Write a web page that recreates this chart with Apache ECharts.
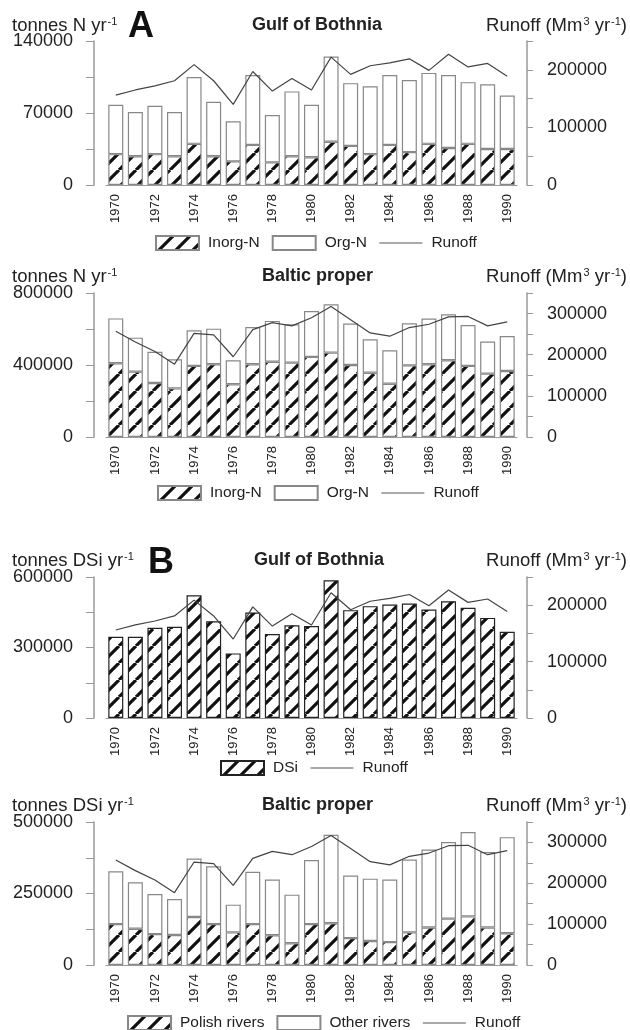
<!DOCTYPE html>
<html>
<head>
<meta charset="utf-8">
<script src="https://cdn.jsdelivr.net/npm/echarts@6/dist/echarts.min.js"></script>
<style>
  html, body { margin: 0; padding: 0; background: #fff; }
  #chart { width: 630px; height: 1030px; }
</style>
</head>
<body>
<div id="chart"></div>
<script>
const years = ['1970','1971','1972','1973','1974','1975','1976','1977','1978','1979','1980',
               '1981','1982','1983','1984','1985','1986','1987','1988','1989','1990'];

// A - nitrogen, Gulf of Bothnia (tonnes N / yr)
const gobInorgN = [30000,28000,30000,28000,40000,28000,23000,39000,22000,28000,27000,
                   42000,38000,30000,39000,32000,40000,36000,40000,35000,35000];
const gobOrgN   = [48000,43000,47000,43000,65000,53000,39000,68000,46000,63000,51000,
                   83000,61000,66000,68000,70000,69000,71000,60000,63000,52000];

// A - nitrogen, Baltic proper
const bpInorgN = [410000,363000,300000,270000,395000,404000,293000,404000,418000,413000,445000,
                  469000,400000,357000,296000,398000,404000,426000,395000,352000,367000];
const bpOrgN   = [249000,189000,174000,162000,198000,198000,133000,207000,227000,213000,255000,
                  268000,230000,186000,186000,234000,254000,256000,227000,178000,194000];

// B - dissolved silicate
const gobDSi = [346000,346000,384000,388000,522000,412000,275000,449000,357000,395000,391000,
                586000,459000,476000,483000,487000,462000,497000,469000,426000,367000];
const bpPolish = [143000,127000,108000,105000,168000,143000,114000,143000,104000,76000,143000,
                  146000,94000,84000,80000,114000,131000,162000,170000,131000,111000];
const bpOther  = [185000,162000,140000,126000,204000,202000,97000,183000,195000,170000,224000,
                  309000,219000,218000,219000,255000,273000,268000,295000,264000,336000];

// runoff (Mm3 / yr)
const gobRunoff = [156000,165000,172000,181000,209000,181000,140000,197000,163000,185000,165000,
                   222000,192000,207000,212000,219000,199000,227000,205000,211000,189000];
const bpRunoff  = [257000,231000,208000,177000,252000,248000,195000,261000,278000,270000,290000,
                   317000,285000,253000,245000,266000,274000,292000,293000,270000,280000];

const leftTicks  = [[140000, 35000], [800000, 200000], [600000, 150000], [500000, 125000]];
const rightTicks = [[250000, 50000], [350000, 50000], [250000, 50000], [350000, 50000]];

function hatch() {
    const s = 17;
    const c = document.createElement('canvas');
    c.width = s; c.height = s;
    const ctx = c.getContext('2d');
    ctx.fillStyle = '#fff';
    ctx.fillRect(0, 0, s, s);
    ctx.strokeStyle = '#111';
    ctx.lineWidth = 3.2;
    ctx.beginPath();
    for (const o of [-s, 0, s]) {
        ctx.moveTo(o, s);
        ctx.lineTo(o + s, 0);
    }
    ctx.stroke();
    return c;
}
const hatchFill = { image: hatch(), repeat: 'repeat' };

const FONT = 'Liberation Sans, Arial, sans-serif';
const grids = [
    { top: 41, height: 144 },
    { top: 293, height: 144 },
    { top: 577, height: 141 },
    { top: 822, height: 143 }
];

const xAxis = [], yAxis = [];
grids.forEach((g, i) => {
    g.left = 106; g.right = 113;
    xAxis.push({
        type: 'category', gridIndex: i, data: years,
        axisLine: { lineStyle: { color: '#999', width: 1.2 } },
        axisTick: { show: false },
        axisLabel: { rotate: 90, interval: 1, fontSize: 13, margin: 9, color: '#222', fontFamily: FONT }
    });
    const [lmax, lint] = leftTicks[i];
    yAxis.push({
        type: 'value', gridIndex: i, min: 0, max: lmax, interval: lint, offset: 12,
        axisLine: { show: true, lineStyle: { color: '#999', width: 1.5 } },
        axisTick: { show: true, length: 8, lineStyle: { color: '#999' } },
        splitLine: { show: false },
        axisLabel: {
            fontSize: 18, margin: 21, color: '#222', fontFamily: FONT,
            formatter: v => (v % (lint * 2) === 0 ? String(v) : '')
        }
    });
    const [rmax, rint] = rightTicks[i];
    yAxis.push({
        type: 'value', gridIndex: i, position: 'right', min: 0, max: rmax, interval: rint, offset: 10,
        axisLine: { show: true, lineStyle: { color: '#999', width: 1.5 } },
        axisTick: { show: true, length: 6, lineStyle: { color: '#999' } },
        splitLine: { show: false },
        axisLabel: {
            fontSize: 18, margin: 20, color: '#222', fontFamily: FONT,
            formatter: v => (v % 100000 === 0 ? String(v) : '')
        }
    });
});

function bar(name, data, i, fill, border) {
    return {
        name, type: 'bar', data, stack: 'p' + i, xAxisIndex: i, yAxisIndex: i * 2,
        barWidth: 15,
        itemStyle: { color: fill, borderColor: border || '#888', borderWidth: 1.2 }
    };
}
function runoff(data, i) {
    return {
        name: 'Runoff', type: 'line', data, xAxisIndex: i, yAxisIndex: i * 2 + 1,
        symbol: 'none', z: 5,
        lineStyle: { color: '#444', width: 1.2 },
        itemStyle: { color: '#444' }
    };
}

const series = [
    bar('Inorg-N', gobInorgN, 0, hatchFill),
    bar('Org-N', gobOrgN, 0, '#fff'),
    runoff(gobRunoff, 0),
    bar('Inorg-N', bpInorgN, 1, hatchFill),
    bar('Org-N', bpOrgN, 1, '#fff'),
    runoff(bpRunoff, 1),
    bar('DSi', gobDSi, 2, hatchFill, '#222'),
    runoff(gobRunoff, 2),
    bar('Polish rivers', bpPolish, 3, hatchFill),
    bar('Other rivers', bpOther, 3, '#fff'),
    runoff(bpRunoff, 3)
];

const rich = {
    n: { fontSize: 18.5, fontWeight: 'normal', fontFamily: FONT, color: '#222' },
    s: { fontSize: 11, fontWeight: 'normal', fontFamily: FONT, color: '#222', verticalAlign: 'top', padding: [0, 0, 8, 1] }
};
function head(text, left, top, extra) {
    return Object.assign({ text, left, top, padding: 0,
        textStyle: { rich, fontWeight: 'normal', fontFamily: FONT } }, extra || {});
}
const titleStyle = { fontSize: 18, fontWeight: 'bold', fontFamily: FONT, color: '#222' };
const letterStyle = { fontSize: 36, fontWeight: 'bold', fontFamily: FONT, color: '#111' };

const headerY = [16, 267, 551, 796];
const title = [];
const units = ['tonnes N yr', 'tonnes N yr', 'tonnes DSi yr', 'tonnes DSi yr'];
const names = ['Gulf of Bothnia', 'Baltic proper', 'Gulf of Bothnia', 'Baltic proper'];
const nameX = [252, 262, 254, 262];
headerY.forEach((y, i) => {
    title.push(head('{n|' + units[i] + '}{s|-1}', 12, y));
    title.push(head('{n|Runoff (Mm}{s|3}{n| yr}{s|-1}{n|)}', null, y, { right: 3 }));
    title.push({ text: names[i], left: nameX[i], top: y, padding: 0, textStyle: titleStyle });
});
title.push({ text: 'A', left: 128, top: 9, padding: 0, textStyle: letterStyle });
title.push({ text: 'B', left: 148, top: 545, padding: 0, textStyle: letterStyle });

function legend(names, left, top) {
    const data = names.map(n => n === 'Runoff'
        ? { name: n, itemStyle: { opacity: 0 }, lineStyle: { color: '#555', width: 1 } }
        : { name: n, icon: 'rect' });
    return {
        data, left, top, itemWidth: 43, itemHeight: 14, itemGap: 12, padding: 0,
        textStyle: { fontSize: 15.5, fontFamily: FONT, color: '#222', padding: [0, 0, 0, 4] }
    };
}

const chart = echarts.init(document.getElementById('chart'), null, { renderer: 'canvas' });
chart.setOption({
    animation: false,
    textStyle: { fontFamily: FONT },
    title,
    grid: grids,
    xAxis,
    yAxis,
    legend: [
        legend(['Inorg-N', 'Org-N', 'Runoff'], 155, 235),
        legend(['Inorg-N', 'Org-N', 'Runoff'], 157, 485),
        legend(['DSi', 'Runoff'], 220, 760),
        legend(['Polish rivers', 'Other rivers', 'Runoff'], 127, 1015)
    ],
    series
});
</script>
</body>
</html>
